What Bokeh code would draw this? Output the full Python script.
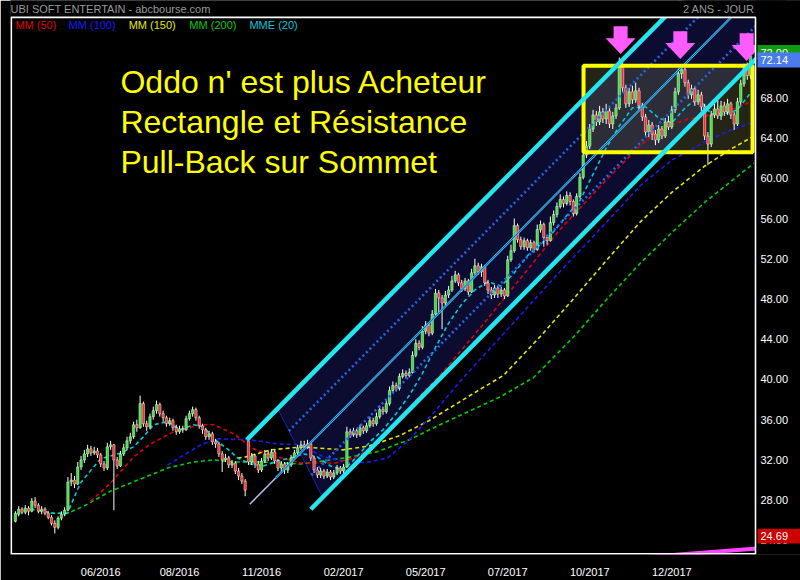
from bokeh.plotting import figure
from bokeh.models import Label, FixedTicker, Range1d
from bokeh.core.properties import value
from bokeh.embed import file_html
from bokeh.resources import INLINE

FONT = "Liberation Sans"

# ---- daily candles (bar index 0..224) ----
opens = [25.9, 26.6, 27.1, 26.8, 27.2, 26.9, 27.9, 27.5, 26.9, 27.1,
         26.7, 26.3, 25.7, 25.3, 26.2, 26.6, 27.0, 29.8, 30.0, 29.6,
         31.3, 32.0, 32.6, 33.1, 32.7, 32.9, 32.5, 31.6, 31.2, 33.3,
         33.5, 32.0, 31.4, 32.6, 33.2, 33.9, 34.3, 35.5, 35.2, 37.6,
         35.6, 35.3, 36.3, 36.9, 37.5, 36.6, 36.2, 35.6, 35.9, 35.2,
         34.8, 35.1, 35.0, 36.1, 36.6, 37.0, 36.2, 35.4, 35.0, 34.3,
         34.6, 33.8, 33.6, 32.6, 32.0, 32.2, 31.5, 31.7, 30.9, 30.4,
         29.9, 33.9, 31.8, 32.4, 31.6, 31.0, 31.9, 32.6, 32.2, 32.8,
         31.9, 31.2, 31.6, 31.0, 31.5, 32.2, 32.7, 33.2, 33.5, 33.3,
         33.6, 32.2, 31.0, 30.5, 30.9, 30.4, 30.8, 30.3, 30.7, 31.2,
         30.9, 31.3, 34.8, 34.5, 34.9, 34.5, 35.2, 34.9, 35.4, 35.9,
         35.6, 36.3, 37.0, 36.8, 37.6, 38.9, 39.4, 39.1, 40.3, 40.6,
         40.4, 40.7, 42.4, 43.6, 43.2, 44.8, 45.4, 44.6, 46.5, 48.6,
         48.1, 47.6, 48.4, 48.9, 49.8, 50.4, 49.6, 49.0, 49.8, 48.7,
         50.6, 51.3, 50.7, 51.2, 49.6, 48.9, 48.4, 49.1, 48.5, 48.9,
         48.3, 51.9, 52.8, 55.3, 53.9, 53.2, 53.8, 53.1, 53.6, 52.9,
         54.9, 55.4, 54.1, 53.8, 55.6, 56.4, 57.2, 57.9, 57.5, 58.3,
         57.7, 56.5, 58.2, 60.1, 62.3, 63.2, 64.9, 66.3, 65.6, 66.6,
         65.9, 66.7, 65.4, 66.2, 67.0, 71.3, 69.0, 67.4, 68.6, 67.8,
         68.7, 67.2, 66.1, 64.6, 65.3, 64.4, 63.8, 64.9, 64.2, 65.6,
         65.1, 66.8, 68.6, 70.4, 70.8, 69.5, 68.3, 68.9, 67.6, 68.3,
         67.1, 64.2, 63.4, 66.3, 66.9, 66.2, 67.2, 66.6, 67.4, 66.3,
         65.4, 67.6, 69.4, 70.9, 70.2]

closes = [26.7, 27.1, 26.8, 27.2, 26.9, 27.9, 27.5, 26.9, 27.1, 26.7,
          26.3, 25.7, 25.3, 26.2, 26.6, 27.0, 29.8, 30.0, 29.6, 31.3,
          32.0, 32.6, 33.1, 32.7, 32.9, 32.5, 31.6, 31.2, 33.3, 33.5,
          32.0, 31.4, 32.6, 33.2, 33.9, 34.3, 35.5, 35.2, 37.6, 35.6,
          35.3, 36.3, 36.9, 37.5, 36.6, 36.2, 35.6, 35.9, 35.2, 34.8,
          35.1, 35.0, 36.1, 36.6, 37.0, 36.2, 35.4, 35.0, 34.3, 34.6,
          33.8, 33.6, 32.6, 32.0, 32.2, 31.5, 31.7, 30.9, 30.4, 29.9,
          29.0, 31.8, 32.4, 31.6, 31.0, 31.9, 32.6, 32.2, 32.8, 31.9,
          31.2, 31.6, 31.0, 31.5, 32.2, 32.7, 33.2, 33.5, 33.3, 33.6,
          32.2, 31.0, 30.5, 30.9, 30.4, 30.8, 30.3, 30.7, 31.2, 30.9,
          31.3, 34.8, 34.5, 34.9, 34.5, 35.2, 34.9, 35.4, 35.9, 35.6,
          36.3, 37.0, 36.8, 37.6, 38.9, 39.4, 39.1, 40.3, 40.6, 40.4,
          40.7, 42.4, 43.6, 43.2, 44.8, 45.4, 44.6, 46.5, 48.6, 48.1,
          47.6, 48.4, 48.9, 49.8, 50.4, 49.6, 49.0, 49.8, 48.7, 50.6,
          51.3, 50.7, 51.2, 49.6, 48.9, 48.4, 49.1, 48.5, 48.9, 48.3,
          51.9, 52.8, 55.3, 53.9, 53.2, 53.8, 53.1, 53.6, 52.9, 54.9,
          55.4, 54.1, 53.8, 55.6, 56.4, 57.2, 57.9, 57.5, 58.3, 57.7,
          56.5, 58.2, 60.1, 62.3, 63.2, 64.9, 66.3, 65.6, 66.6, 65.9,
          66.7, 65.4, 66.2, 67.0, 71.3, 69.0, 67.4, 68.6, 67.8, 68.7,
          67.2, 66.1, 64.6, 65.3, 64.4, 63.8, 64.9, 64.2, 65.6, 65.1,
          66.8, 68.6, 70.4, 70.8, 69.5, 68.3, 68.9, 67.6, 68.3, 67.1,
          64.2, 63.4, 66.3, 66.9, 66.2, 67.2, 66.6, 67.4, 66.3, 65.4,
          67.6, 69.4, 70.9, 70.2, 72.14]

highs = [26.9, 27.4, 27.3, 27.5, 27.4, 28.2, 28.3, 27.7, 27.4, 27.3,
         26.9, 26.5, 26.0, 26.4, 26.9, 27.3, 30.3, 30.7, 30.4, 31.8,
         32.4, 33.0, 33.5, 33.4, 33.3, 33.2, 32.7, 31.9, 33.7, 33.9,
         33.6, 32.3, 32.9, 33.6, 34.3, 34.7, 35.8, 36.0, 38.4, 37.8,
         35.9, 36.6, 37.3, 37.9, 37.7, 36.9, 36.4, 36.2, 36.1, 35.5,
         35.4, 35.4, 36.4, 36.9, 37.3, 37.2, 36.4, 35.6, 35.2, 34.9,
         34.8, 34.1, 33.8, 32.9, 32.6, 32.4, 32.0, 31.9, 31.2, 30.7,
         30.1, 34.2, 32.7, 32.6, 31.9, 32.2, 33.0, 32.9, 33.1, 33.0,
         32.1, 31.9, 31.8, 31.8, 32.5, 33.0, 33.5, 33.9, 33.9, 34.0,
         33.8, 32.4, 31.3, 31.2, 31.1, 31.1, 31.0, 31.0, 31.5, 31.4,
         31.6, 35.3, 35.1, 35.2, 35.1, 35.5, 35.4, 35.7, 36.3, 36.2,
         36.7, 37.4, 37.3, 38.0, 39.3, 39.8, 39.7, 40.6, 41.0, 40.9,
         41.1, 42.8, 44.0, 43.9, 45.3, 45.8, 45.6, 46.9, 49.0, 48.9,
         48.4, 48.8, 49.3, 50.3, 50.8, 50.6, 49.9, 50.1, 50.0, 51.0,
         52.0, 51.6, 51.5, 51.4, 49.9, 49.2, 49.4, 49.3, 49.2, 49.1,
         52.3, 53.4, 56.0, 55.5, 54.2, 54.1, 54.0, 53.9, 53.8, 55.4,
         55.8, 55.6, 54.4, 56.2, 56.8, 57.6, 58.4, 58.2, 58.7, 58.6,
         57.9, 58.5, 60.5, 62.8, 63.7, 65.4, 66.8, 66.7, 67.2, 67.0,
         67.4, 67.0, 66.6, 67.4, 72.0, 71.6, 69.3, 69.0, 69.2, 69.5,
         69.0, 67.5, 66.4, 65.8, 65.6, 64.8, 65.3, 65.2, 66.0, 66.2,
         67.2, 69.0, 70.9, 71.3, 71.0, 69.8, 69.3, 69.1, 68.8, 68.6,
         67.4, 64.6, 66.7, 67.4, 67.8, 67.7, 67.6, 67.9, 67.6, 66.6,
         68.0, 69.8, 71.4, 71.5, 72.5]

lows = [25.8, 26.4, 26.6, 26.6, 26.5, 26.8, 27.2, 26.7, 26.6, 26.5,
        26.1, 25.5, 24.7, 25.1, 26.0, 26.4, 26.9, 29.4, 29.2, 29.5,
        31.0, 31.7, 32.3, 32.4, 32.5, 32.2, 31.3, 30.9, 31.0, 33.0,
        27.0, 31.1, 31.3, 32.4, 33.0, 33.6, 34.1, 34.8, 35.1, 35.3,
        34.9, 35.1, 36.0, 36.6, 36.3, 35.8, 35.3, 35.4, 34.9, 34.5,
        34.6, 34.7, 34.9, 35.9, 36.3, 35.9, 35.1, 34.6, 34.0, 34.0,
        33.5, 33.2, 32.3, 30.8, 31.8, 31.2, 31.2, 30.6, 30.0, 29.6,
        28.4, 31.5, 31.5, 31.2, 30.7, 30.8, 31.7, 31.9, 32.0, 31.6,
        30.9, 30.8, 30.6, 30.7, 31.3, 32.0, 32.5, 33.0, 33.0, 33.1,
        31.9, 30.7, 30.2, 30.2, 30.1, 30.2, 30.0, 30.1, 30.5, 30.6,
        30.7, 31.2, 34.2, 34.3, 34.2, 34.3, 34.6, 34.7, 35.2, 35.3,
        35.4, 36.1, 36.5, 36.6, 37.4, 38.7, 38.8, 38.9, 40.1, 40.1,
        40.2, 40.6, 42.2, 42.9, 43.0, 44.5, 44.3, 44.4, 46.3, 46.5,
        45.0, 47.3, 48.1, 48.7, 49.6, 49.3, 48.7, 48.8, 48.4, 48.6,
        50.4, 50.4, 50.2, 49.3, 48.5, 48.0, 48.1, 48.1, 48.2, 48.0,
        48.2, 51.7, 52.6, 53.6, 52.9, 52.9, 52.8, 52.8, 52.6, 52.8,
        54.6, 53.2, 53.4, 53.7, 55.3, 56.1, 57.0, 57.1, 57.3, 57.3,
        56.2, 56.3, 58.0, 59.9, 62.0, 62.9, 64.6, 65.2, 65.3, 65.5,
        65.4, 65.0, 64.9, 65.9, 66.8, 68.6, 67.0, 67.1, 67.4, 67.5,
        66.8, 65.7, 64.2, 64.1, 63.8, 63.3, 63.5, 63.9, 64.0, 64.8,
        64.9, 66.5, 68.3, 69.9, 69.1, 67.9, 67.9, 67.2, 67.3, 66.7,
        63.8, 61.3, 63.1, 66.0, 65.9, 65.8, 66.2, 66.3, 65.9, 64.8,
        65.2, 67.3, 69.1, 69.8, 69.9]

# ---- moving averages, sampled (bar index, price) ----
mm50_x = [22.9, 29.0, 36.0, 41.2, 48.2, 56.4, 60.4, 66.5, 72.6, 79.9, 86.9, 97.6,
          104, 110, 117.4, 123, 129.6, 141.8, 154, 166.2, 180.5, 190.6, 197, 205,
          215, 220, 225]
mm50_y = [27.9, 29.7, 32.3, 33.6, 34.8, 35.5, 35.5, 34.6, 33.1, 32.3, 31.7, 31.7,
          32.3, 33.6, 36.1, 38.3, 40.5, 45.2, 50.1, 55.0, 60.0, 63.3, 65.0, 65.9,
          66.5, 67.0, 67.8]

mm100_x = [46.4, 56.4, 61.6, 71.7, 79.9, 86.9, 93.9, 102.2, 108, 113.4, 120, 128,
           136.5, 150, 165, 180, 190.5, 200, 210, 218, 225]
mm100_y = [31.5, 33.5, 34.1, 34.0, 33.6, 33.5, 32.3, 31.7, 31.8, 32.2, 34.0, 36.9,
           40.2, 45.0, 50.4, 55.6, 59.3, 61.8, 63.6, 64.8, 65.6]

mm150_x = [67.7, 70.1, 77.8, 87.5, 99.7, 108, 117, 126, 135, 142, 148.7, 160, 170,
           180, 190.5, 200, 210, 218, 225]
mm150_y = [32.2, 32.3, 33.0, 33.3, 33.0, 33.4, 34.4, 35.9, 37.7, 39.1, 40.4, 44.3,
           48.0, 51.8, 55.7, 58.6, 61.2, 62.9, 64.2]

mm200_x = [10.7, 15.9, 20.8, 29.0, 38.1, 46.4, 54.3, 60.4, 66.5, 74.7, 86.9, 100.6,
           110, 120, 130, 140, 147.9, 157.9, 170, 180, 190.5, 200, 210, 225]
mm200_y = [26.7, 26.7, 27.4, 28.9, 30.1, 31.2, 31.8, 32.0, 31.8, 31.8, 31.6, 32.2,
           32.8, 34.0, 35.6, 37.1, 38.3, 40.2, 44.2, 47.9, 51.6, 54.6, 57.6, 61.5]

mme20_x = [4.6, 8.6, 11.6, 15.9, 17.4, 19.8, 22.3, 25.9, 29.0, 32.0, 36.0, 39.0,
           42.1, 46.3, 50.3, 54.3, 57.3, 60.4, 64.6, 67.7, 71.6, 75.6, 79.9, 83.8,
           88, 92, 96, 100, 104, 108, 112, 116, 120, 124, 128, 132, 136, 140, 144,
           148, 152, 156, 160, 164, 168, 172, 176, 180, 184, 188, 192, 196, 200,
           204, 208, 212, 216, 220, 224]
mme20_y = [27.1, 26.9, 26.7, 26.7, 27.9, 29.7, 30.7, 32.1, 32.4, 32.7, 33.3, 34.3,
           35.5, 35.8, 35.0, 35.5, 35.3, 34.1, 33.1, 32.2, 31.6, 31.4, 31.9, 32.2,
           32.6, 32.3, 31.4, 31.0, 32.3, 33.8, 35.0, 36.6, 38.4, 40.6, 43.2, 45.6,
           47.5, 48.9, 49.7, 49.3, 50.6, 52.3, 53.4, 54.7, 56.3, 57.8, 60.4, 63.0,
           65.2, 67.0, 67.1, 66.0, 65.5, 67.0, 68.0, 66.4, 66.4, 66.8, 68.5]

# ---- hand-drawn channel (anchor points, common slope per bar) ----
chan_slope = 0.33
chan_upper = (70.5, 34.0)
chan_mid = (71.4, 27.6)
chan_mid_solid_from = 79.3
chan_lower = (90.0, 27.1)
chan_fill_left = (79.9, 93.6)       # left edge of the shaded band (upper x, lower x)
chan_quarter_from = (83.3, 90.2)    # start of the two dotted quarter lines
chan_end = 235

# ---- rectangle / resistance zone ----
rect_x = [173.1, 224.6]
rect_y = [62.6, 71.2]

# ---- arrows pointing at the three tops (tip x, tip price) ----
arrow_x = [184.4, 202.6, 222.8]
arrow_y = [72.35, 71.86, 71.67]

# ---- bottom indicator stroke ----
ind_x = [180, 226]
ind_y = [22.04, 23.2]

# ---- axis labels ----
tick_pos = [26, 50, 75, 100, 125, 150, 175, 200]
tick_lbl = ["06/2016", "08/2016", "11/2016", "02/2017", "05/2017", "07/2017",
            "10/2017", "12/2017"]
price_ticks = [24, 28, 32, 36, 40, 44, 48, 52, 56, 60, 64, 68, 72]

last_price = 72.14
low_price = 24.69
marker_price = 72.00

N = len(closes)
idx = list(range(N))

# chart box (in data units) inside a frame that also holds the price scale
X0, X1 = -1.5, N + 0.5          # chart box left / right
Y0, Y1 = 22.6, 76.0             # chart box bottom / top
PX = 3.2819                     # pixels per bar
PY = 10.15                      # pixels per price unit
XMAX = X1 + 45 / PX             # right edge of the canvas
YMAX = Y1 + 17 / PY             # top edge of the canvas

p = figure(width=800, height=580, output_backend="svg", toolbar_location=None,
           x_range=Range1d(X0, XMAX), y_range=Range1d(Y0, YMAX),
           y_axis_location=None, min_border_left=10, min_border_right=0,
           min_border_top=0, min_border_bottom=21)
p.background_fill_color = "black"
p.border_fill_color = "black"
p.outline_line_color = None
p.grid.visible = False

xa = p.xaxis[0]
xa.axis_line_color = None
xa.major_tick_line_color = None
xa.minor_tick_line_color = None
xa.major_label_text_color = "white"
xa.major_label_text_font = FONT
xa.major_label_text_font_size = "11px"
xa.ticker = FixedTicker(ticks=tick_pos)
xa.major_label_overrides = {t: l for t, l in zip(tick_pos, tick_lbl)}
xa.major_label_standoff = 5


def chan(anchor, x, offset=0.0):
    return anchor[1] + chan_slope * (x - anchor[0]) + offset


# shaded channel band
fx0, fx1 = chan_fill_left
band_x = [fx0, chan_end, chan_end, fx1]
band_y = [chan(chan_upper, fx0), chan(chan_upper, chan_end),
          chan(chan_lower, chan_end), chan(chan_lower, fx1)]
p.patch(band_x, band_y, fill_color="#0c0c30", line_color=None)
p.line([fx0, fx1], [band_y[0], band_y[3]], line_color="#1a22b0", line_width=1)

# resistance rectangle fill
p.quad(left=rect_x[0], right=rect_x[1], bottom=rect_y[0], top=rect_y[1],
       fill_color="#8a8a50", fill_alpha=0.27, line_color=None)

# moving averages
ma_style = dict(line_width=1.6, line_dash="4 3")
p.line(mm200_x, mm200_y, line_color="#00cc00", **ma_style)
p.line(mm150_x, mm150_y, line_color="#e6e600", **ma_style)
p.line(mm100_x, mm100_y, line_color="#1a1aff", **ma_style)
p.line(mm50_x, mm50_y, line_color="#e00000", **ma_style)
p.line(mme20_x, mme20_y, line_color="#00c8d8", **ma_style)

# candles
up = [c >= o for o, c in zip(opens, closes)]
tops = [max(o, c) for o, c in zip(opens, closes)]
bots = [min(o, c) for o, c in zip(opens, closes)]
cols = ["#2ee82e" if u else "#ff2a2a" for u in up]
p.segment(x0=idx, y0=lows, x1=idx, y1=highs, line_color="white", line_width=1)
p.vbar(x=idx, width=0.72, top=tops, bottom=bots, fill_color=cols,
       line_color="#f0f0f0", line_width=0.5)

# dotted quarter lines
q0, q1 = chan_quarter_from
half = (chan(chan_upper, 100) - chan(chan_mid, 100)) / 2
p.line([q0, chan_end], [chan(chan_mid, q0, half), chan(chan_mid, chan_end, half)],
       line_color="#2266e6", line_width=2.6, line_dash="2 3")
halfl = (chan(chan_mid, 100) - chan(chan_lower, 100)) / 2
p.line([q1, chan_end], [chan(chan_mid, q1, -halfl), chan(chan_mid, chan_end, -halfl)],
       line_color="#2266e6", line_width=2.6, line_dash="2 3")

# channel middle line
m0 = chan_mid[0]
p.line([m0, chan_mid_solid_from],
       [chan(chan_mid, m0), chan(chan_mid, chan_mid_solid_from)],
       line_color="#b8b8f0", line_width=1.5)
p.line([chan_mid_solid_from, chan_end],
       [chan(chan_mid, chan_mid_solid_from), chan(chan_mid, chan_end)],
       line_color="#38d4ec", line_width=2.2)
p.line([chan_mid_solid_from, chan_end],
       [chan(chan_mid, chan_mid_solid_from), chan(chan_mid, chan_end)],
       line_color="#1a20b0", line_width=0.8)

# resistance rectangle border
p.quad(left=rect_x[0], right=rect_x[1], bottom=rect_y[0], top=rect_y[1],
       fill_color=None, line_color="#ffff00", line_width=4)

# channel borders
for anc in (chan_upper, chan_lower):
    p.line([anc[0], chan_end], [chan(anc, anc[0]), chan(anc, chan_end)],
           line_color="#22e6f0", line_width=4.5)

# bottom indicator stroke
p.line(ind_x, ind_y, line_color="#ff44ff", line_width=4)

# arrows
hw, sw, hh, tot = 4.57, 2.13, 1.58, 2.76
axs, ays = [], []
for xc, yt in zip(arrow_x, arrow_y):
    axs.append([xc, xc - hw, xc - sw, xc - sw, xc + sw, xc + sw, xc + hw])
    ays.append([yt, yt + hh, yt + hh, yt + tot, yt + tot, yt + hh, yt + hh])
p.patches(axs, ays, fill_color="#ff5cff", line_color=None)

# keep the drawing inside the chart box: black margins right of and above it
p.quad(left=[X1, X0 - 5], right=[XMAX + 5, XMAX + 5], bottom=[Y0 - 5, Y1],
       top=[YMAX + 5, YMAX + 5], fill_color="black", line_color=None)

# chart box border
p.quad(left=X0 + 0.25, right=X1, bottom=Y0 + 0.08, top=Y1, fill_color=None,
       line_color="white", line_width=1.6)

# price scale labels
p.text(x=[X1 + 5 / PX] * len(price_ticks), y=price_ticks,
       text=[f"{t:.2f}" for t in price_ticks], text_color="white",
       text_font=value(FONT), text_font_size="11px", text_baseline="middle",
       text_align="left")

# price boxes on the scale: (price at box centre, text, colour)
box_half = 7.5 / PY
boxes = [(Y1 - (52.5 - 17) / PY, f"{marker_price:.2f}", "#109a10"),
         (Y1 - (60.0 - 17) / PY, f"{last_price:.2f}", "#4a7cf0"),
         (Y1 - (540.5 - 17) / PY, f"{low_price:.2f}", "#cc0000")]
for yc, txt, col in boxes:
    p.quad(left=X1 + 2 / PX, right=XMAX + 1, bottom=yc - box_half,
           top=yc + box_half, fill_color=col, line_color=None)
    p.text(x=[X1 + 5 / PX], y=[yc], text=[txt], text_color="white",
           text_font=value(FONT), text_font_size="11px", text_baseline="middle",
           text_align="left")

# header
hy = Y1 + 8 / PY
p.text(x=[X0], y=[hy], text=["UBI SOFT ENTERTAIN - abcbourse.com"],
       text_color="#9a9a9a", text_font=value(FONT), text_font_size="11px",
       text_baseline="middle", text_align="left")
p.text(x=[X1 - 1 / PX], y=[hy], text=["2 ANS - JOUR"], text_color="#9a9a9a",
       text_font=value(FONT), text_font_size="11px", text_baseline="middle",
       text_align="right")

# legend
legend = [("MM (50)", "#e00000", 0.0), ("MM (100)", "#1a1aff", 16.2),
          ("MM (150)", "#e6e600", 34.5), ("MM (200)", "#00cc00", 53.0),
          ("MME (20)", "#00c8d8", 71.3)]
for txt, col, lx in legend:
    p.add_layout(Label(x=lx, y=Y1 - 8 / PY, text=txt, text_color=col,
                       text_font=FONT, text_font_size="11px",
                       text_baseline="middle"))

# headline text
for txt, yb in zip(["Oddo n' est plus Acheteur", "Rectangle et Résistance",
                    "Pull-Back sur Sommet"], [69.53, 65.56, 61.62]):
    p.add_layout(Label(x=32.0, y=yb, text=txt, text_color="#ffff00",
                       text_font=FONT, text_font_size="32px",
                       text_baseline="alphabetic"))

open("out.html", "w").write(file_html(p, INLINE))
